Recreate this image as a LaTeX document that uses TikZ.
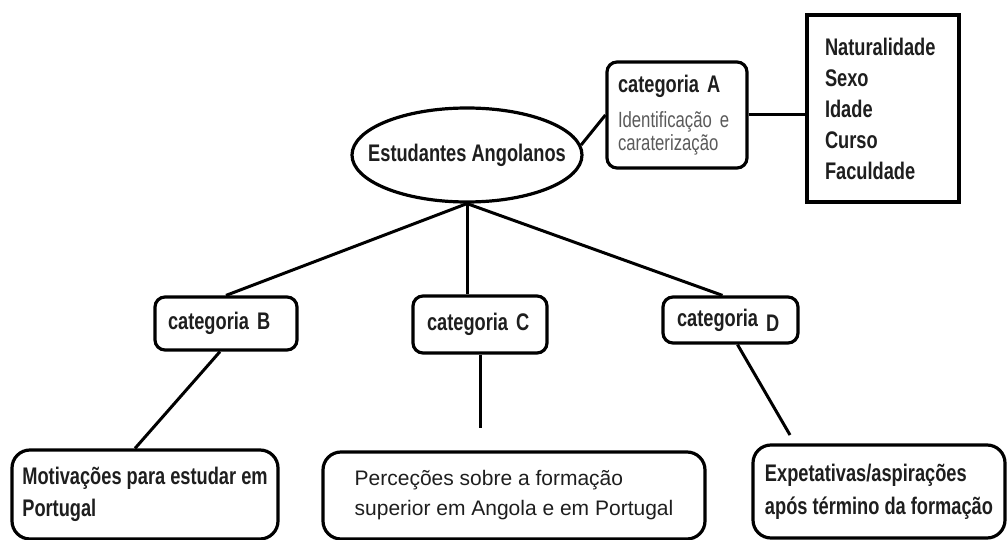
\documentclass[tikz,border=0pt]{standalone}
\usepackage{fontspec}
\setmainfont{Liberation Sans}
\newfontfamily\narrowsans[FakeStretch=0.76]{Liberation Sans}
\usepackage{xcolor}
\usepackage{tikz}
\usetikzlibrary{shapes,positioning}
\definecolor{ink}{HTML}{1E1E1E}
\definecolor{subink}{HTML}{5A5A5A}

\begin{document}
\begin{tikzpicture}[x=1pt, y=-1pt]
  % styles
  \tikzstyle{student}=[ellipse, draw=black, line width=3.2pt, fill=white, minimum width=230pt, minimum height=94pt, inner xsep=-18pt, inner ysep=0pt, text=ink, font=\narrowsans\bfseries\fontsize{24}{29}\selectfont]

  \tikzstyle{category}=[rectangle, draw=black, line width=3.2pt, fill=white, rounded corners=10pt, align=left, inner ysep=0pt, text=ink, font=\narrowsans\bfseries\fontsize{24}{23}\selectfont]
  \tikzstyle{attribute}=[rectangle, draw=black, line width=3.8pt, fill=white, align=left, inner ysep=0pt, text=ink, font=\narrowsans\bfseries\fontsize{24}{31}\selectfont]
  \tikzstyle{outcome}=[rectangle, draw=black, line width=3.2pt, fill=white, rounded corners=18pt, align=left, inner sep=0pt, text=ink, font=\narrowsans\bfseries\fontsize{24}{32}\selectfont]
  \tikzstyle{line} = [draw, line width=3pt]

  \useasboundingbox (0,0) rectangle (1007,540);

  % centre and first category
  \node [student] (students) at (467,155) {Estudantes Angolanos};
  \node [category, minimum height=106pt, text width=118pt, inner xsep=11pt] (cat_a) at (677,115) {
      categoria A\\[12pt]
      {\mdseries\color{subink}\fontsize{22}{23}\selectfont Identificação e\\caraterização}
  };
  \node [attribute, minimum height=187pt, text width=116pt, inner xsep=18pt] (attrs) at (883,108.5) {
      Naturalidade\\Sexo\\Idade\\Curso\\Faculdade
  };

  % second row
  \node [category, minimum height=53pt, text width=116pt, inner xsep=13pt] (cat_b) at (226,323.5) {categoria B};
  \node [category, minimum height=57pt, text width=106pt, inner xsep=14pt] (cat_c) at (480,324.5) {categoria C};
  \node [category, minimum height=46pt, text width=107pt, inner xsep=14pt] (cat_d) at (730.5,320) {categoria \raisebox{-5pt}{D}};

  % third row
  \node [outcome, minimum width=266pt, minimum height=89pt] (motiv) at (145,494.5) {
      Motivações para estudar em\\Portugal
  };
  \node [outcome, minimum width=382pt, minimum height=87pt, font=\mdseries\fontsize{21}{30}\selectfont] (percep) at (514,495.5) {
      Perceções sobre a formação\\superior em Angola e em Portugal
  };
  \node [outcome, minimum width=252pt, minimum height=93pt, font=\narrowsans\bfseries\fontsize{24}{33}\selectfont] (expect) at (879,491.5) {
      Expetativas/aspirações\\após término da formação
  };

  \coordinate (c_end) at (480,428);
  \coordinate (d_end) at (790,435);

  \draw [line] (students.5) to (cat_a.west);
  \draw [line] (cat_a.east) to (cat_a.east -| attrs.west);

  \draw [line] (students.south) to (cat_b.north);
  \draw [line] (students.south) to (students.south |- cat_c.north);
  \draw [line] (students.south) to ([xshift=-8pt]cat_d.north);

  \draw [line] ([xshift=-6pt]cat_b.south) to ([xshift=-10pt]motiv.north);
  \draw [line] (cat_c.south) to (c_end);
  \draw [line] ([xshift=7pt]cat_d.south) to (d_end);
\end{tikzpicture}
\end{document}
